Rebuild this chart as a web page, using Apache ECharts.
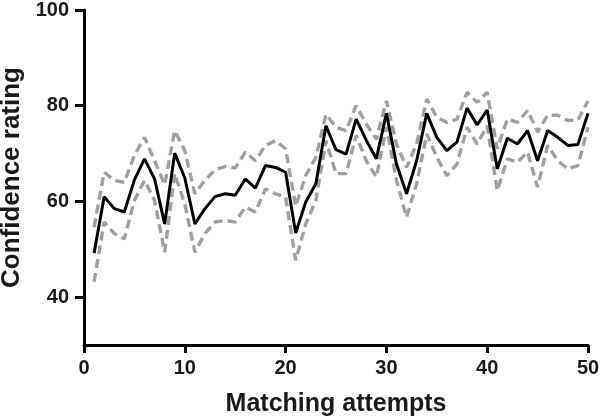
<!DOCTYPE html>
<html>
<head>
<meta charset="utf-8">
<script src="https://cdn.jsdelivr.net/npm/echarts@6/dist/echarts.min.js"></script>
<style>html,body{margin:0;padding:0;background:#fff}#c{width:600px;height:416px}</style>
</head>
<body>
<div id="c"></div>
<script>
var attempts = [];
for (var i = 1; i <= 50; i++) attempts.push(i);
var meanRating = [49.2, 61.0, 58.5, 57.8, 64.5, 68.9, 64.7, 55.3, 70.1, 64.9, 55.3, 58.5, 61.0, 61.6, 61.3, 64.7, 62.8, 67.5, 67.1, 66.1, 53.4, 59.9, 63.7, 75.8, 70.8, 69.9, 77.2, 72.8, 68.9, 78.4, 67.8, 61.6, 68.5, 78.4, 73.4, 70.6, 72.4, 79.5, 76.0, 79.1, 66.8, 73.2, 72.0, 74.8, 68.5, 74.8, 73.4, 71.7, 71.9, 78.4];
var upperRating = [54.6, 66.1, 64.4, 64.0, 69.6, 73.4, 68.5, 63.5, 74.8, 70.6, 61.6, 64.4, 66.6, 67.3, 67.0, 70.3, 68.5, 71.7, 72.7, 71.0, 59.0, 65.4, 69.2, 78.2, 75.5, 74.8, 80.0, 76.2, 73.0, 81.0, 72.0, 67.1, 72.0, 81.4, 77.6, 76.5, 77.2, 82.8, 80.7, 82.8, 71.0, 77.2, 76.5, 79.0, 74.5, 78.0, 78.0, 76.9, 77.0, 81.0];
var lowerRating = [43.2, 55.7, 53.3, 52.2, 60.2, 64.4, 60.2, 49.4, 65.8, 59.5, 49.4, 53.3, 55.7, 56.0, 55.7, 58.8, 57.8, 62.6, 61.6, 60.9, 47.7, 55.3, 60.2, 72.7, 65.8, 65.8, 73.8, 68.5, 65.1, 75.5, 64.4, 56.7, 63.7, 74.1, 69.2, 65.4, 67.8, 75.5, 72.0, 75.8, 62.3, 68.9, 68.2, 70.3, 63.0, 71.7, 68.5, 66.8, 67.5, 75.5];
var yTicks = [40, 60, 80, 100];
var xTicks = [0, 10, 20, 30, 40, 50];

function pairs(arr) { return attempts.map(function (x, i) { return [x, arr[i]]; }); }

var font = 'Liberation Sans, Arial, sans-serif';
var txt = '#1a1a1a';
var chart = echarts.init(document.getElementById('c'), null, {renderer: 'canvas'});
var dashStyle = {color: '#a0a0a2', width: 3.4, type: [9, 5], cap: 'butt'};
chart.setOption({
  animation: false,
  grid: {left: 84, right: 12, top: 10, bottom: 71, containLabel: false, outerBoundsMode: 'none'},
  xAxis: {
    type: 'value', min: 0, max: 50, interval: 10,
    name: 'Matching attempts', nameLocation: 'middle', nameGap: 47,
    nameTextStyle: {fontFamily: font, fontWeight: 'bold', fontSize: 25, color: txt},
    axisLine: {show: true, onZero: false, lineStyle: {color: '#000', width: 3}},
    axisTick: {show: true, length: 8, lineStyle: {color: '#000', width: 3}, customValues: xTicks},
    axisLabel: {fontFamily: font, fontWeight: 'bold', fontSize: 20, color: txt, margin: 13, customValues: xTicks},
    splitLine: {show: false}
  },
  yAxis: {
    type: 'value', min: 30, max: 100,
    name: 'Confidence rating', nameLocation: 'middle', nameGap: 52, nameRotate: 90,
    nameTextStyle: {fontFamily: font, fontWeight: 'bold', fontSize: 26, color: txt},
    axisLine: {show: true, onZero: false, lineStyle: {color: '#000', width: 3}},
    axisTick: {show: true, length: 9, lineStyle: {color: '#000', width: 3}, customValues: yTicks},
    axisLabel: {fontFamily: font, fontWeight: 'bold', fontSize: 20, color: txt, margin: 15, customValues: yTicks},
    splitLine: {show: false}
  },
  series: [
    {type: 'line', data: pairs(upperRating), symbol: 'none', lineStyle: dashStyle, z: 2},
    {type: 'line', data: pairs(lowerRating), symbol: 'none', lineStyle: dashStyle, z: 2},
    {type: 'line', data: pairs(meanRating), symbol: 'none', lineStyle: {color: '#000', width: 3}, z: 3}
  ]
});
</script>
</body>
</html>
